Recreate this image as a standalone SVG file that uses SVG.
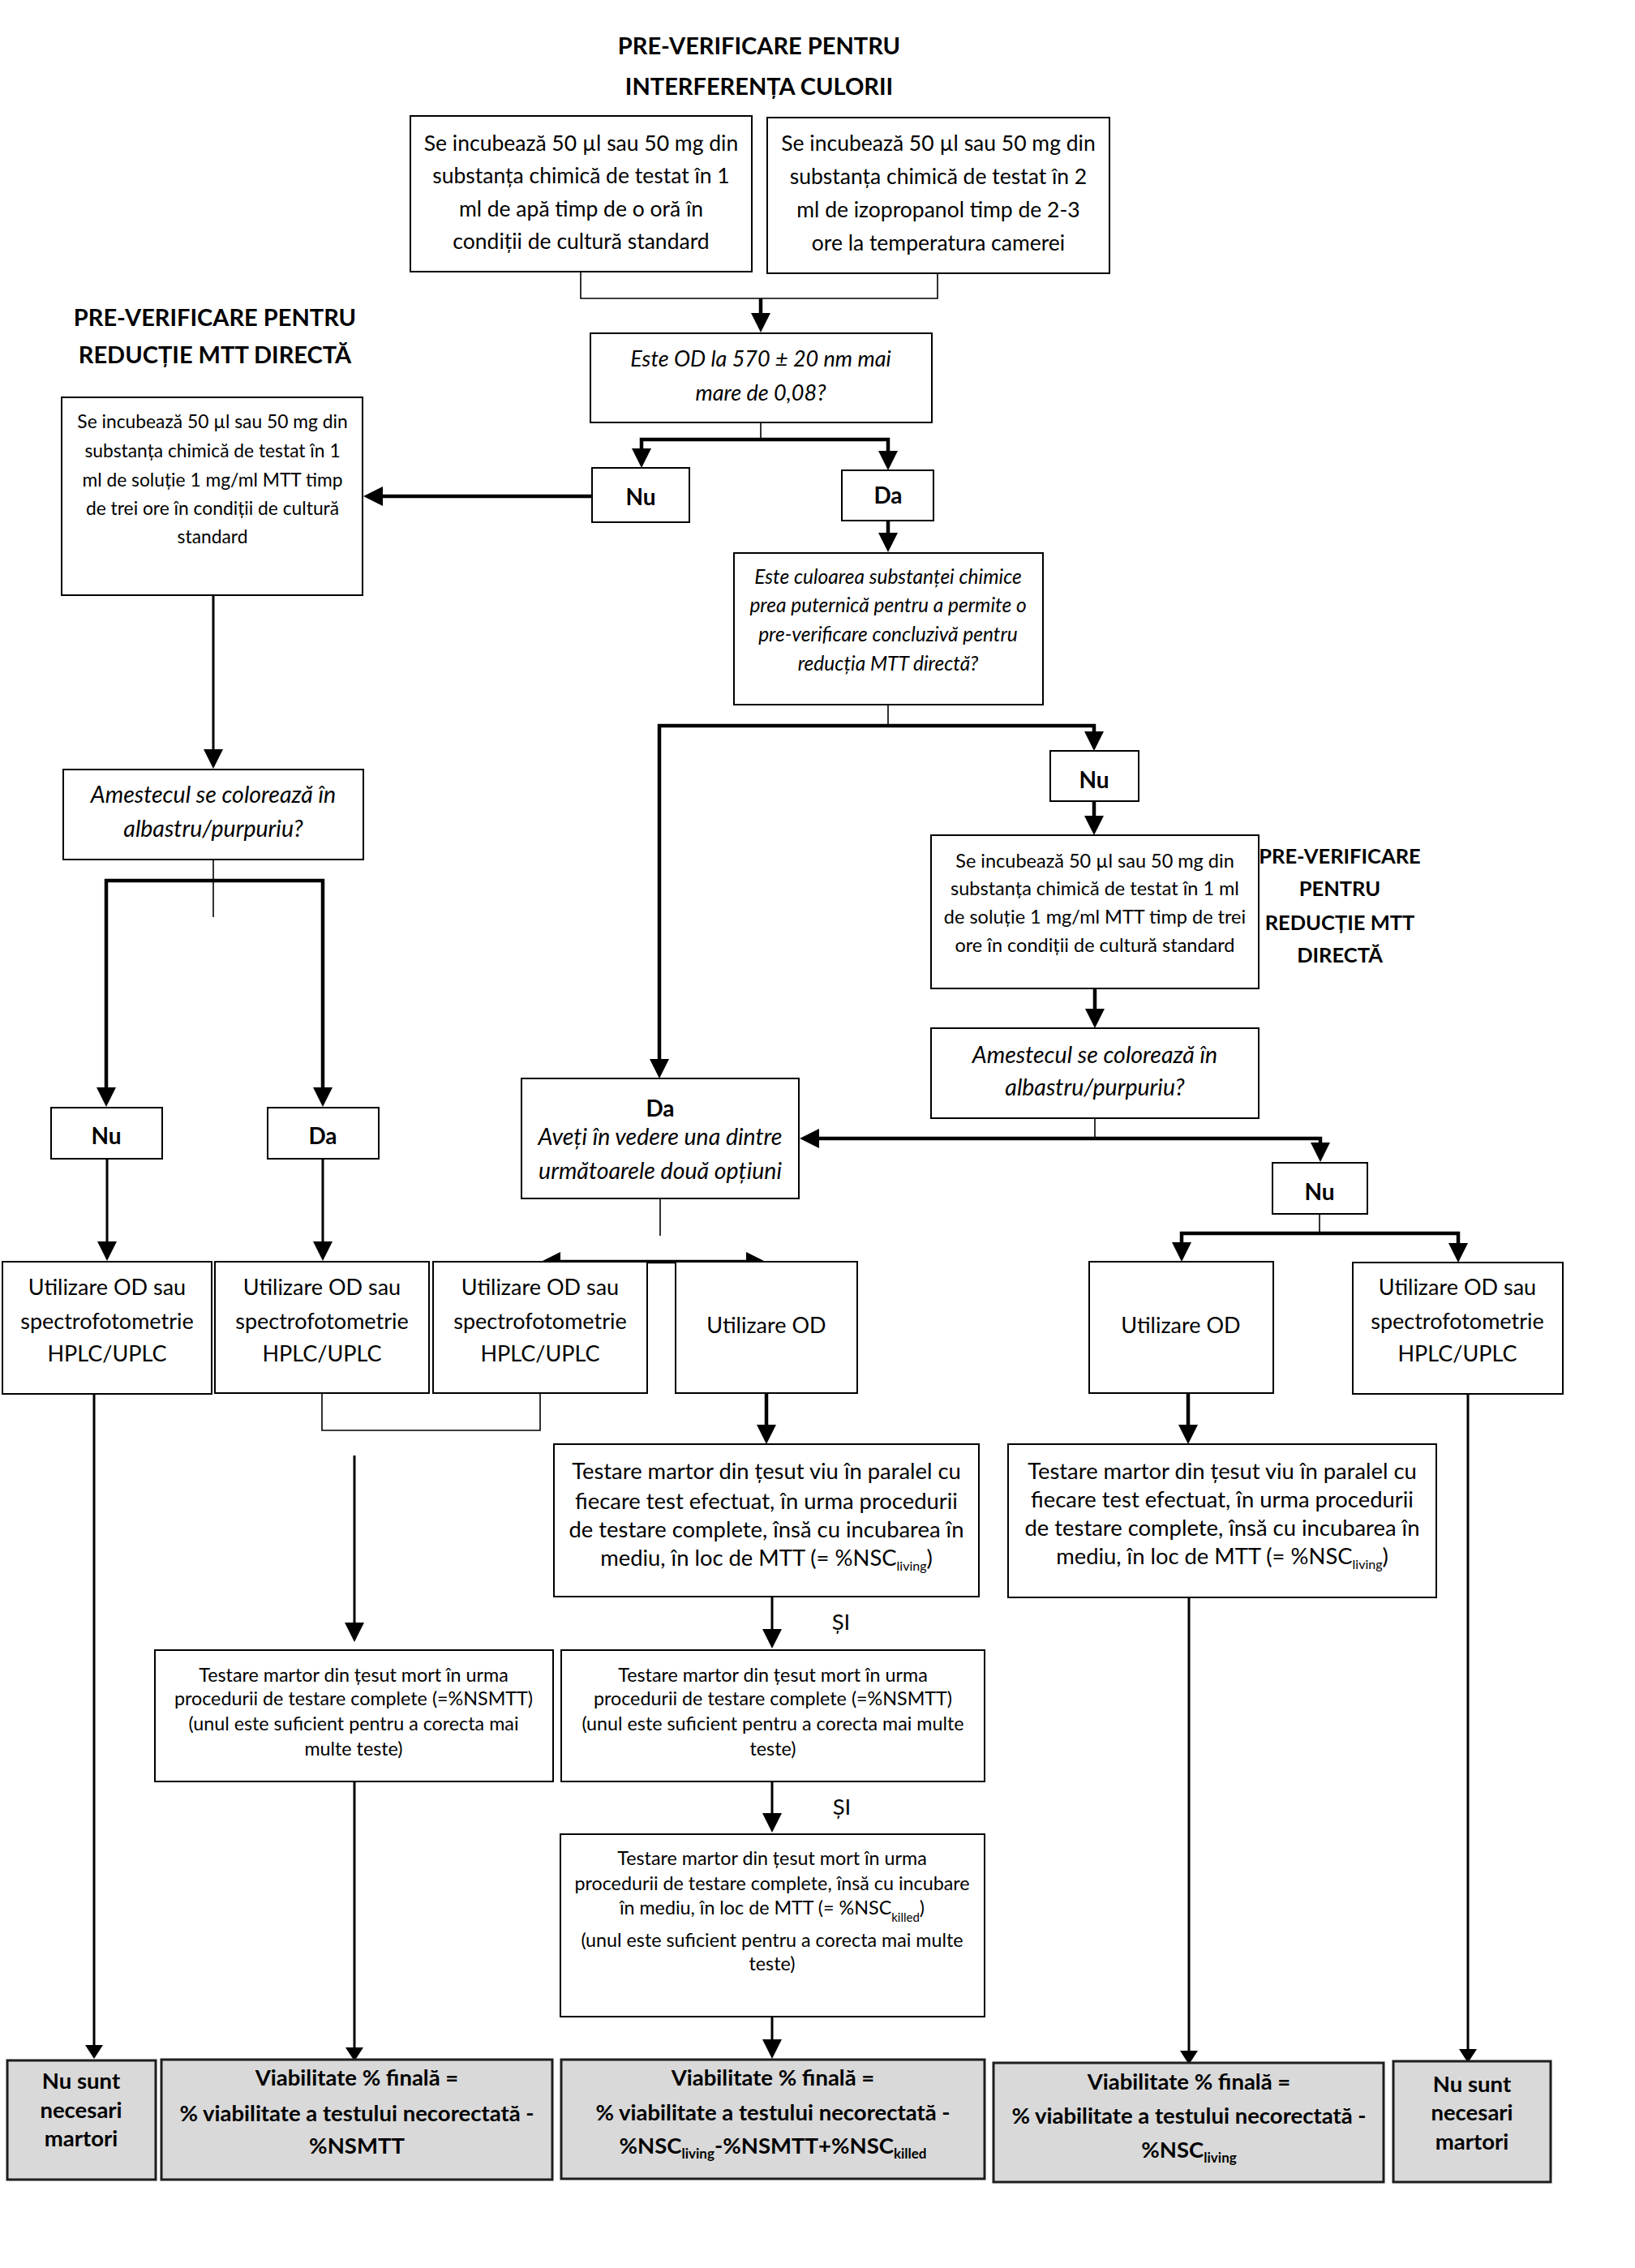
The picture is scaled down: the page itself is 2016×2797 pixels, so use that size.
<svg xmlns="http://www.w3.org/2000/svg" width="2016" height="2797" viewBox="0 0 2016 2797">
<defs>
<style>
text{font-family:Lato,"Liberation Sans","DejaVu Sans",sans-serif;fill:#000;text-anchor:middle}
.ti{font-weight:bold;font-size:29px}
.tr{font-weight:bold;font-size:25.5px}
.b24{font-size:26.5px}
.od{font-size:27px;font-style:italic}
.b20{font-size:22.8px}
.q{font-size:24.5px;font-style:italic}
.r20{font-size:23.5px}
.am{font-size:28.5px;font-style:italic}
.lab{font-weight:bold;font-size:28px}
.u{font-size:27px}
.v{font-size:27.4px}
.d{font-size:23.3px}
.f{font-weight:bold;font-size:27.5px}
.si{font-size:27.5px}
.box{fill:#fff;stroke:#000;stroke-width:2}
.fin{fill:#d9d9d9;stroke:#1e1e1e;stroke-width:3}
.c{fill:none;stroke:#000}
.k{stroke-width:4.5}
.m{stroke-width:3}
.n{stroke-width:1.6}
</style>
<marker id="ah" viewBox="0 0 24 24" refX="14" refY="12" markerWidth="24" markerHeight="24" markerUnits="userSpaceOnUse" orient="auto-start-reverse"><path d="M0,0 L24,12 L0,24 z" fill="#000"/></marker>
<marker id="as" viewBox="0 0 17 22" refX="7" refY="11" markerWidth="17" markerHeight="22" markerUnits="userSpaceOnUse" orient="auto-start-reverse"><path d="M0,0 L17,11 L0,22 z" fill="#000"/></marker>
</defs>
<rect width="2016" height="2797" fill="#fff"/>

<g id="titles">
<text class="ti" x="936" y="67">PRE-VERIFICARE PENTRU</text>
<text class="ti" x="936" y="117">INTERFERENȚA CULORII</text>
<text class="ti" x="265" y="402">PRE-VERIFICARE PENTRU</text>
<text class="ti" x="265" y="448">REDUCȚIE MTT DIRECTĂ</text>
<text class="tr" x="1652" y="1065">PRE-VERIFICARE</text>
<text class="tr" x="1652" y="1105">PENTRU</text>
<text class="tr" x="1652" y="1147">REDUCȚIE MTT</text>
<text class="tr" x="1652" y="1187">DIRECTĂ</text>
</g>

<g id="connectors">
<path class="c n" d="M716 335 V368 H1156 V337"/>
<path class="c k" d="M938 368 V400" marker-end="url(#ah)"/>
<path class="c n" d="M938 521 V542"/>
<path class="c k" d="M791 567 V542 H1095 V570" marker-start="url(#ah)" marker-end="url(#ah)"/>
<path class="c k" d="M730 612 H458" marker-end="url(#ah)"/>
<path class="c k" d="M1095 642 V671" marker-end="url(#ah)"/>
<path class="c n" d="M1095 869 V895"/>
<path class="c k" d="M813 1320 V895 H1349 V916" marker-start="url(#ah)" marker-end="url(#ah)"/>
<path class="c k" d="M1349 988 V1020" marker-end="url(#ah)"/>
<path class="c k" d="M1350 1219 V1258" marker-end="url(#ah)"/>
<path class="c n" d="M1350 1379 V1404"/>
<path class="c k" d="M996 1404 H1628 V1423" marker-start="url(#ah)" marker-end="url(#ah)"/>
<path class="c n" d="M1627 1497 V1523"/>
<path class="c k" d="M1457 1546 V1521 H1798 V1547" marker-start="url(#ah)" marker-end="url(#ah)"/>
<path class="c m" d="M263 734 V938" marker-end="url(#ah)"/>
<path class="c n" d="M263 1060 V1131"/>
<path class="c k" d="M131 1355 V1086 H398 V1355" marker-start="url(#ah)" marker-end="url(#ah)"/>
<path class="c m" d="M132 1429 V1545" marker-end="url(#ah)"/>
<path class="c m" d="M398 1429 V1545" marker-end="url(#ah)"/>
<path class="c n" d="M814 1478 V1524"/>
<path class="c k" d="M677 1556 H934" marker-start="url(#ah)" marker-end="url(#ah)"/>
<path class="c n" d="M397 1718 V1764 H666 V1718"/>
<path class="c m" d="M437 1795 V2015" marker-end="url(#ah)"/>
<path class="c m" d="M116 1719 V2529" marker-end="url(#as)"/>
<path class="c k" d="M945 1718 V1771" marker-end="url(#ah)"/>
<path class="c k" d="M1465 1718 V1771" marker-end="url(#ah)"/>
<path class="c m" d="M952 1969 V2023" marker-end="url(#ah)"/>
<path class="c m" d="M952 2197 V2250" marker-end="url(#ah)"/>
<path class="c m" d="M952 2487 V2529" marker-end="url(#ah)"/>
<path class="c m" d="M437 2197 V2532" marker-end="url(#as)"/>
<path class="c m" d="M1466 1970 V2536" marker-end="url(#as)"/>
<path class="c m" d="M1810 1719 V2534" marker-end="url(#as)"/>
<text class="si" x="1037" y="2010">ȘI</text>
<text class="si" x="1038" y="2238">ȘI</text>
</g>

<g id="n_water">
<rect class="box" x="506" y="143" width="421" height="192"/>
<text class="b24" x="716.5" y="186">Se incubează 50 µl sau 50 mg din</text>
<text class="b24" x="716.5" y="226">substanța chimică de testat în 1</text>
<text class="b24" x="716.5" y="267">ml de apă timp de o oră în</text>
<text class="b24" x="716.5" y="307">condiții de cultură standard</text>
</g>
<g id="n_isoprop">
<rect class="box" x="946" y="145" width="422" height="192"/>
<text class="b24" x="1157" y="186">Se incubează 50 µl sau 50 mg din</text>
<text class="b24" x="1157" y="227">substanța chimică de testat în 2</text>
<text class="b24" x="1157" y="268">ml de izopropanol timp de 2-3</text>
<text class="b24" x="1157" y="309">ore la temperatura camerei</text>
</g>
<g id="n_od">
<rect class="box" x="728" y="411" width="421" height="110"/>
<text class="od" x="938" y="452">Este OD la 570 ± 20 nm mai</text>
<text class="od" x="938" y="494">mare de 0,08?</text>
</g>
<g id="n_nu1">
<rect class="box" x="730" y="577" width="120" height="67"/>
<text class="lab" x="790" y="623">Nu</text>
</g>
<g id="n_da1">
<rect class="box" x="1038" y="580" width="113" height="62"/>
<text class="lab" x="1095" y="621">Da</text>
</g>
<g id="n_mtt_left">
<rect class="box" x="76" y="490" width="371" height="244"/>
<text class="b20" x="262" y="528">Se incubează 50 µl sau 50 mg din</text>
<text class="b20" x="262" y="564">substanța chimică de testat în 1</text>
<text class="b20" x="262" y="600">ml de soluție 1 mg/ml MTT timp</text>
<text class="b20" x="262" y="635">de trei ore în condiții de cultură</text>
<text class="b20" x="262" y="670">standard</text>
</g>
<g id="n_color">
<rect class="box" x="905" y="682" width="381" height="187"/>
<text class="q" x="1095" y="720">Este culoarea substanței chimice</text>
<text class="q" x="1095" y="755">prea puternică pentru a permite o</text>
<text class="q" x="1095" y="791">pre-verificare concluzivă pentru</text>
<text class="q" x="1095" y="827">reducția MTT directă?</text>
</g>
<g id="n_nu2">
<rect class="box" x="1295" y="926" width="109" height="62"/>
<text class="lab" x="1349" y="972">Nu</text>
</g>
<g id="n_mtt_right">
<rect class="box" x="1148" y="1030" width="404" height="189"/>
<text class="r20" x="1350" y="1070">Se incubează 50 µl sau 50 mg din</text>
<text class="r20" x="1350" y="1104">substanța chimică de testat în 1 ml</text>
<text class="r20" x="1350" y="1139">de soluție 1 mg/ml MTT timp de trei</text>
<text class="r20" x="1350" y="1174">ore în condiții de cultură standard</text>
</g>
<g id="n_blue_right">
<rect class="box" x="1148" y="1268" width="404" height="111"/>
<text class="am" x="1350" y="1311">Amestecul se colorează în</text>
<text class="am" x="1350" y="1351">albastru/purpuriu?</text>
</g>
<g id="n_blue_left">
<rect class="box" x="78" y="949" width="370" height="111"/>
<text class="am" x="263" y="990">Amestecul se colorează în</text>
<text class="am" x="263" y="1032">albastru/purpuriu?</text>
</g>
<g id="n_nu3">
<rect class="box" x="63" y="1366" width="137" height="63"/>
<text class="lab" x="131" y="1411">Nu</text>
</g>
<g id="n_da3">
<rect class="box" x="330" y="1366" width="137" height="63"/>
<text class="lab" x="398" y="1411">Da</text>
</g>
<g id="n_da2">
<rect class="box" x="643" y="1330" width="342" height="148"/>
<text class="lab" x="814" y="1377">Da</text>
<text class="am" x="814" y="1412">Aveți în vedere una dintre</text>
<text class="am" x="814" y="1454">următoarele două opțiuni</text>
</g>
<g id="n_nu4">
<rect class="box" x="1569" y="1434" width="117" height="63"/>
<text class="lab" x="1627" y="1480">Nu</text>
</g>
<g id="n_use1">
<rect class="box" x="3" y="1556" width="258" height="163"/>
<text class="u" x="132" y="1597">Utilizare OD sau</text>
<text class="u" x="132" y="1639">spectrofotometrie</text>
<text class="u" x="132" y="1679">HPLC/UPLC</text>
</g>
<g id="n_use2">
<rect class="box" x="265" y="1556" width="264" height="162"/>
<text class="u" x="397" y="1597">Utilizare OD sau</text>
<text class="u" x="397" y="1639">spectrofotometrie</text>
<text class="u" x="397" y="1679">HPLC/UPLC</text>
</g>
<g id="n_use3">
<rect class="box" x="534" y="1556" width="264" height="162"/>
<text class="u" x="666" y="1597">Utilizare OD sau</text>
<text class="u" x="666" y="1639">spectrofotometrie</text>
<text class="u" x="666" y="1679">HPLC/UPLC</text>
</g>
<g id="n_use4">
<rect class="box" x="833" y="1556" width="224" height="162"/>
<text class="u" x="945" y="1644">Utilizare OD</text>
</g>
<g id="n_use5">
<rect class="box" x="1343" y="1556" width="227" height="162"/>
<text class="u" x="1456" y="1644">Utilizare OD</text>
</g>
<g id="n_use6">
<rect class="box" x="1668" y="1557" width="259" height="162"/>
<text class="u" x="1797" y="1597">Utilizare OD sau</text>
<text class="u" x="1797" y="1639">spectrofotometrie</text>
<text class="u" x="1797" y="1679">HPLC/UPLC</text>
</g>
<g id="n_living_mid">
<rect class="box" x="683" y="1781" width="524" height="188"/>
<text class="v" x="945" y="1824">Testare martor din țesut viu în paralel cu</text>
<text class="v" x="945" y="1861">fiecare test efectuat, în urma procedurii</text>
<text class="v" x="945" y="1896">de testare complete, însă cu incubarea în</text>
<text class="v" x="945" y="1931">mediu, în loc de MTT (= %NSC<tspan font-size="16" dy="6">living</tspan><tspan dy="-6">)</tspan></text>
</g>
<g id="n_living_right">
<rect class="box" x="1243" y="1781" width="528" height="189"/>
<text class="v" x="1507" y="1824">Testare martor din țesut viu în paralel cu</text>
<text class="v" x="1507" y="1859">fiecare test efectuat, în urma procedurii</text>
<text class="v" x="1507" y="1894">de testare complete, însă cu incubarea în</text>
<text class="v" x="1507" y="1929">mediu, în loc de MTT (= %NSC<tspan font-size="16" dy="6">living</tspan><tspan dy="-6">)</tspan></text>
</g>
<g id="n_dead_left">
<rect class="box" x="191" y="2035" width="491" height="162"/>
<text class="d" x="436" y="2074">Testare martor din țesut mort în urma</text>
<text class="d" x="436" y="2103">procedurii de testare complete (=%NSMTT)</text>
<text class="d" x="436" y="2134">(unul este suficient pentru a corecta mai</text>
<text class="d" x="436" y="2165">multe teste)</text>
</g>
<g id="n_dead_mid">
<rect class="box" x="692" y="2035" width="522" height="162"/>
<text class="d" x="953" y="2074">Testare martor din țesut mort în urma</text>
<text class="d" x="953" y="2103">procedurii de testare complete (=%NSMTT)</text>
<text class="d" x="953" y="2134">(unul este suficient pentru a corecta mai multe</text>
<text class="d" x="953" y="2165">teste)</text>
</g>
<g id="n_killed">
<rect class="box" x="691" y="2262" width="523" height="225"/>
<text class="d" x="952" y="2300">Testare martor din țesut mort în urma</text>
<text class="d" x="952" y="2331">procedurii de testare complete, însă cu incubare</text>
<text class="d" x="952" y="2361">în mediu, în loc de MTT (= %NSC<tspan font-size="15" dy="9">killed</tspan><tspan dy="-9">)</tspan></text>
<text class="d" x="952" y="2401">(unul este suficient pentru a corecta mai multe</text>
<text class="d" x="952" y="2430">teste)</text>
</g>
<g id="n_final1">
<rect class="fin" x="9" y="2541" width="183" height="147"/>
<text class="f" x="100" y="2576">Nu sunt</text>
<text class="f" x="100" y="2612">necesari</text>
<text class="f" x="100" y="2647">martori</text>
</g>
<g id="n_final2">
<rect class="fin" x="199" y="2540" width="482" height="148"/>
<text class="f" x="440" y="2572">Viabilitate % finală =</text>
<text class="f" x="440" y="2616">% viabilitate a testului necorectată -</text>
<text class="f" x="440" y="2656">%NSMTT</text>
</g>
<g id="n_final3">
<rect class="fin" x="692" y="2540" width="522" height="147"/>
<text class="f" x="953" y="2572">Viabilitate % finală =</text>
<text class="f" x="953" y="2615">% viabilitate a testului necorectată -</text>
<text class="f" x="953" y="2656">%NSC<tspan font-size="17" dy="6">living</tspan><tspan dy="-6">-%NSMTT+%NSC</tspan><tspan font-size="17" dy="6">killed</tspan></text>
</g>
<g id="n_final4">
<rect class="fin" x="1225" y="2544" width="481" height="147"/>
<text class="f" x="1466" y="2577">Viabilitate % finală =</text>
<text class="f" x="1466" y="2619">% viabilitate a testului necorectată -</text>
<text class="f" x="1466" y="2661">%NSC<tspan font-size="17" dy="6">living</tspan></text>
</g>
<g id="n_final5">
<rect class="fin" x="1718" y="2542" width="194" height="149"/>
<text class="f" x="1815" y="2580">Nu sunt</text>
<text class="f" x="1815" y="2615">necesari</text>
<text class="f" x="1815" y="2651">martori</text>
</g>
</svg>
